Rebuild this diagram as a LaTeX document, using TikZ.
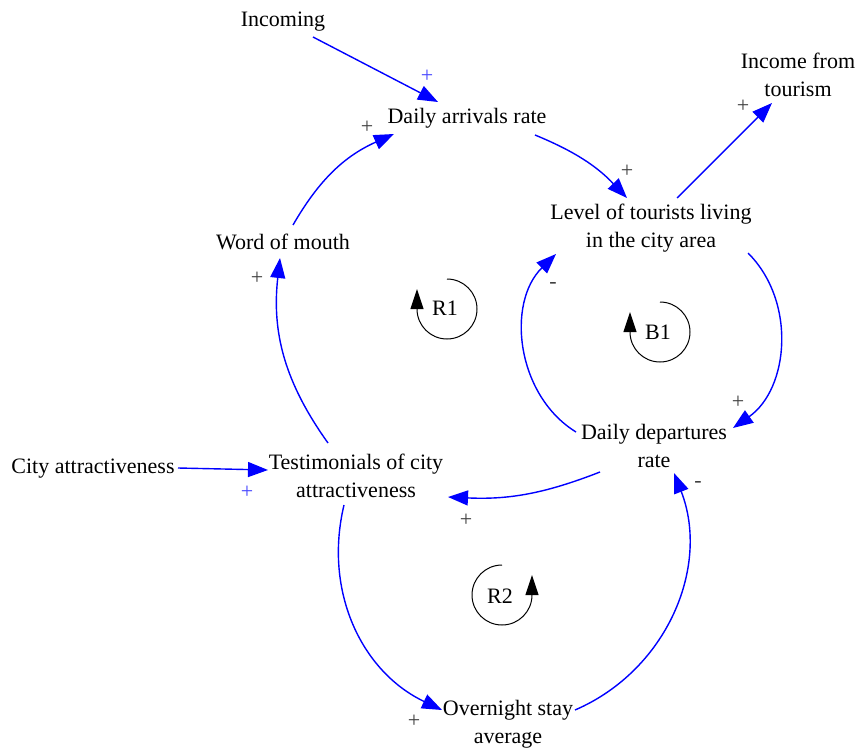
\documentclass[tikz,border=0pt]{standalone}
\usepackage{fontspec}
\setmainfont{Liberation Serif}
\usetikzlibrary{arrows.meta,calc}
\definecolor{signgray}{RGB}{64,64,64}
\definecolor{signblue}{RGB}{70,70,255}
\begin{document}
\begin{tikzpicture}[x=0.5pt,y=0.5pt,
  var/.style={font=\fontsize{11}{14}\selectfont, inner sep=0pt, anchor=base, align=center},
  link/.style={draw=blue, line width=0.7pt, -{Triangle[length=10pt,width=7.5pt]}},
  loopsym/.style={draw=black, line width=0.5pt, -{Triangle[length=10pt,width=6.5pt]}},
  sign/.style={font=\fontsize{11}{14}\selectfont, inner sep=0pt, text=signgray},
  bsign/.style={sign, text=signblue},
  looplabel/.style={font=\fontsize{11}{14}\selectfont, inner sep=0pt, anchor=base}]
\useasboundingbox (0,0) rectangle (856,-749);
% variables (base anchor = baseline of last line)
\node[var] (inc)  at (283,-27)  {Incoming};
\node[var] (dar)  at (467,-124) {Daily arrivals rate};
\node[var] (inco) at (798,-97)  {Income from\\tourism};
\node[var] (lev)  at (651,-247) {Level of tourists living\\in the city area};
\node[var] (wom)  at (283,-249) {Word of mouth};
\node[var] (dep)  at (654,-467) {Daily departures\\rate};
\node[var] (city) at (93,-473)  {City attractiveness};
\node[var] (test) at (356,-497) {Testimonials of city\\attractiveness};
\node[var] (ovn)  at (508,-743) {Overnight stay\\average};
% connectors
\draw[link] ($(inc.base)+(30,-10)$) -- ($(dar.base)+(-29,22)$);
\draw[link] ($(dar.base)+(68,-11)$) to[bend left=12] ($(lev.base)+(-24,49)$);
\draw[link] ($(lev.base)+(26,49)$) -- ($(inco.base)+(-26,-6)$);
\draw[link] ($(wom.base)+(10,24)$) to[bend left=18] ($(dar.base)+(-73,-10)$);
\draw[link] ($(test.base)+(-28,54)$) to[bend left=21] ($(wom.base)+(-3,-9)$);
\draw[link] ($(city.base)+(85,5)$) -- ($(test.base)+(-88,27)$);
\draw[link] ($(lev.base)+(97,-6)$) to[bend left=50] ($(dep.base)+(79,39)$);
\draw[link] ($(dep.base)+(-78,35)$) to[bend left=52] ($(lev.base)+(-95,-7)$);
\draw[link] ($(dep.base)+(-54,-5)$) to[bend left=12] ($(test.base)+(92,0)$);
\draw[link] ($(test.base)+(-12,-8)$) to[bend right=39] ($(ovn.base)+(-66,33)$);
\draw[link] ($(ovn.base)+(67,33)$) to[bend right=44] ($(dep.base)+(20,-6)$);
% polarities
\node[bsign] (p1) at (427,-76) {+};
\node[sign] (p2) at (367,-127) {+};
\node[sign] (p3) at (627,-171) {+};
\node[sign] (p4) at (743,-106) {+};
\node[sign] (p5) at (257,-278) {+};
\node[bsign] (p6) at (247,-492) {+};
\node[sign] (p7) at (738,-402) {+};
\node[sign] (p8) at (553,-285) {-};
\node[sign] (p9) at (466,-520) {+};
\node[sign] (p10) at (414,-721) {+};
\node[sign] (p11) at (698,-484) {-};
% loop symbols
\coordinate (r1c) at (447,-309);
\coordinate (b1c) at (660,-332);
\coordinate (r2c) at (502,-595);
\draw[loopsym] ($(r1c)+(0,30)$) arc[start angle=90,end angle=-180,radius=30] -- ++(0,20);
\draw[loopsym] ($(b1c)+(0,30)$) arc[start angle=90,end angle=-180,radius=30] -- ++(0,20);
\draw[loopsym] ($(r2c)+(0,30)$) arc[start angle=90,end angle=360,radius=30] -- ++(0,20);
\node[looplabel] (r1) at (445,-315) {R1};
\node[looplabel] (b1) at (658,-339) {B1};
\node[looplabel] (r2) at (500,-603) {R2};
\end{tikzpicture}
\end{document}
